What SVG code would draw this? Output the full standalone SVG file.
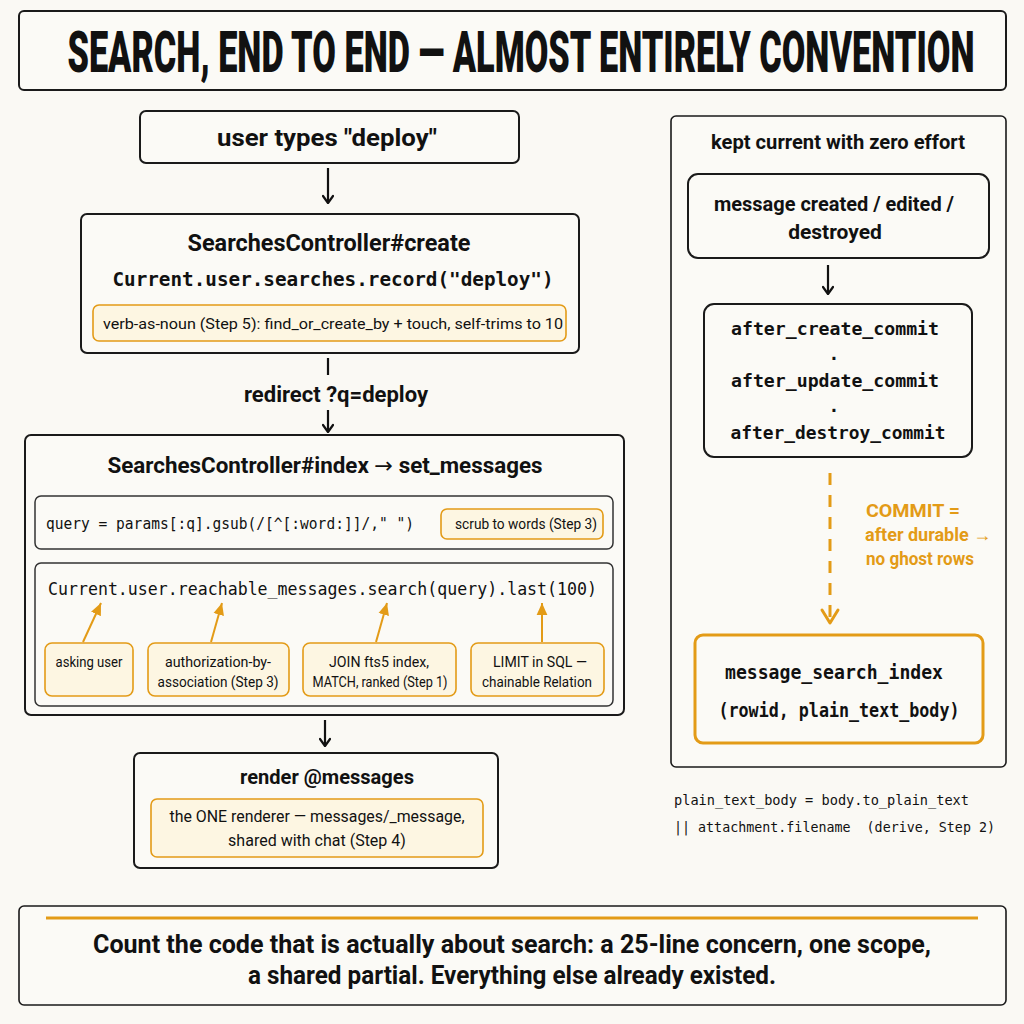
<svg xmlns="http://www.w3.org/2000/svg" width="1024" height="1024" viewBox="0 0 1024 1024">
<defs>
<marker id="ah" viewBox="0 0 12 12" refX="11" refY="6" markerWidth="12" markerHeight="12" markerUnits="userSpaceOnUse" orient="auto">
<path d="M4,1 L11,6 L4,11" fill="none" stroke="#111" stroke-width="2.2" stroke-linecap="round" stroke-linejoin="round"/>
</marker>
<marker id="ahf" viewBox="0 0 10 10" refX="10" refY="5" markerWidth="12" markerHeight="12" markerUnits="userSpaceOnUse" orient="auto">
<path d="M0,0.5 L10,5 L0,9.5 Z" fill="#e39b17"/>
</marker>
</defs>
<style>
.box{fill:#fbfaf6;stroke:#1a1a1a;stroke-width:2}
.inner{fill:#fbfaf6;stroke:#333;stroke-width:1.5}
.note{fill:#fdf6e2;stroke:#e39b17;stroke-width:1.6}
.h{font-family:Roboto,"Liberation Sans",sans-serif;font-weight:700;fill:#111;text-anchor:middle}
.t{font-family:Roboto,"Liberation Sans",sans-serif;font-weight:400;fill:#111;text-anchor:middle}
.m{font-family:"DejaVu Sans Mono","Liberation Mono",monospace;fill:#111}
.mb{font-family:"DejaVu Sans Mono","Liberation Mono",monospace;font-weight:700;fill:#111}
.o{font-family:Roboto,"Liberation Sans",sans-serif;font-weight:700;fill:#e39b17}
.arr{font-family:"DejaVu Sans",sans-serif;font-weight:400}
.line{stroke:#111;stroke-width:2.2;fill:none}
.oline{stroke:#e39b17;stroke-width:2;fill:none}
</style>
<rect width="1024" height="1024" fill="#faf9f4"/>

<g id="title">
<rect x="19" y="11" width="987" height="79" rx="5" class="box"/>
<text transform="translate(521,72) scale(0.62,1)" text-anchor="middle" font-family="Roboto,'Liberation Sans',sans-serif" font-weight="900" font-size="58" fill="#111" textLength="1463" lengthAdjust="spacingAndGlyphs">SEARCH, END TO END — ALMOST ENTIRELY CONVENTION</text>
</g>

<g id="user-types">
<rect x="140" y="111" width="379" height="52" rx="6" class="box"/>
<text x="327" y="146" class="h" font-size="24" textLength="220" lengthAdjust="spacingAndGlyphs">user types "deploy"</text>
</g>

<g id="create">
<rect x="81" y="214" width="498" height="139" rx="6" class="box"/>
<text x="329" y="251" class="h" font-size="23" textLength="283" lengthAdjust="spacingAndGlyphs">SearchesController#create</text>
<text x="333" y="286" class="mb" font-size="19.3" text-anchor="middle">Current.user.searches.record("deploy")</text>
<rect x="93" y="305" width="473" height="36" rx="6" class="note"/>
<text x="333" y="329" class="t" font-size="15.5" textLength="460" lengthAdjust="spacingAndGlyphs">verb-as-noun (Step 5): find_or_create_by + touch, self-trims to 10</text>
</g>

<g id="index">
<rect x="25" y="435" width="599" height="280" rx="6" class="box"/>
<text x="325" y="473" class="h" font-size="22" textLength="435" lengthAdjust="spacingAndGlyphs">SearchesController#index <tspan class="arr">→</tspan> set_messages</text>
<rect x="35" y="496" width="578" height="53" rx="6" class="inner"/>
<text x="46" y="529" class="m" font-size="16" textLength="368" lengthAdjust="spacingAndGlyphs">query = params[:q].gsub(/[^[:word:]]/," ")</text>
<rect x="441" y="509" width="162" height="30" rx="6" class="note"/>
<text x="526" y="529" class="t" font-size="14" textLength="142" lengthAdjust="spacingAndGlyphs">scrub to words (Step 3)</text>
<rect x="35" y="563" width="578" height="143" rx="6" class="inner"/>
<text x="48" y="595" class="m" font-size="17.5" font-weight="500" textLength="549" lengthAdjust="spacingAndGlyphs">Current.user.reachable_messages.search(query).last(100)</text>
<rect x="45" y="643" width="88" height="53" rx="7" class="note"/>
<text x="89" y="667" class="t" font-size="15.5" textLength="67" lengthAdjust="spacingAndGlyphs">asking user</text>
<rect x="148" y="643" width="141" height="53" rx="7" class="note"/>
<text x="218" y="667" class="t" font-size="15.5" textLength="106" lengthAdjust="spacingAndGlyphs">authorization-by-</text>
<text x="218" y="687" class="t" font-size="15.5" textLength="121" lengthAdjust="spacingAndGlyphs">association (Step 3)</text>
<rect x="303" y="643" width="153" height="53" rx="7" class="note"/>
<text x="379" y="667" class="t" font-size="15.5" textLength="100" lengthAdjust="spacingAndGlyphs">JOIN fts5 index,</text>
<text x="380" y="687" class="t" font-size="15.5" textLength="135" lengthAdjust="spacingAndGlyphs">MATCH, ranked (Step 1)</text>
<rect x="471" y="643" width="133" height="53" rx="7" class="note"/>
<text x="540" y="667" class="t" font-size="15.5" textLength="94" lengthAdjust="spacingAndGlyphs">LIMIT in SQL —</text>
<text x="537" y="687" class="t" font-size="15.5" textLength="110" lengthAdjust="spacingAndGlyphs">chainable Relation</text>
</g>

<g id="render">
<rect x="134" y="753" width="364" height="115" rx="6" class="box"/>
<text x="327" y="784" class="h" font-size="20.5" textLength="174" lengthAdjust="spacingAndGlyphs">render @messages</text>
<rect x="151" y="799" width="332" height="58" rx="6" class="note"/>
<text x="317" y="822" class="t" font-size="16" textLength="295" lengthAdjust="spacingAndGlyphs">the ONE renderer — messages/_message,</text>
<text x="317" y="846" class="t" font-size="16">shared with chat (Step 4)</text>
</g>

<g id="side-panel">
<rect x="671" y="116" width="335" height="651" rx="5" fill="#fbfaf6" stroke="#1a1a1a" stroke-width="1.6"/>
<text x="838" y="149" class="h" font-size="20" textLength="254" lengthAdjust="spacingAndGlyphs">kept current with zero effort</text>
</g>

<g id="message-event">
<rect x="688" y="174" width="301" height="84" rx="10" class="box"/>
<text x="834" y="211" class="h" font-size="21" font-weight="500" textLength="240" lengthAdjust="spacingAndGlyphs">message created / edited /</text>
<text x="835" y="239" class="h" font-size="21" font-weight="500">destroyed</text>
</g>

<g id="callbacks">
<rect x="704" y="304" width="268" height="153" rx="10" class="box"/>
<text x="835" y="335" class="mb" font-size="18" text-anchor="middle" textLength="208" lengthAdjust="spacingAndGlyphs">after_create_commit</text>
<text x="834" y="360" class="mb" font-size="18" text-anchor="middle">.</text>
<text x="835" y="387" class="mb" font-size="18" text-anchor="middle" textLength="208" lengthAdjust="spacingAndGlyphs">after_update_commit</text>
<text x="834" y="412" class="mb" font-size="18" text-anchor="middle">.</text>
<text x="838" y="439" class="mb" font-size="18" text-anchor="middle" textLength="215" lengthAdjust="spacingAndGlyphs">after_destroy_commit</text>
</g>

<g id="search-index">
<rect x="695" y="635" width="288" height="108" rx="8" fill="#fbfaf6" stroke="#e39b17" stroke-width="3"/>
<text x="834" y="679" class="mb" font-size="19" text-anchor="middle" textLength="218" lengthAdjust="spacingAndGlyphs">message_search_index</text>
<text x="839" y="717" class="mb" font-size="19" text-anchor="middle" textLength="241" lengthAdjust="spacingAndGlyphs">(rowid, plain_text_body)</text>
</g>

<g id="derive-note">
<text x="674" y="805" class="m" font-size="13.6" textLength="295" lengthAdjust="spacingAndGlyphs">plain_text_body = body.to_plain_text</text>
<text x="674" y="832" class="m" font-size="13.3" textLength="321" lengthAdjust="spacingAndGlyphs" xml:space="preserve">|| attachment.filename  (derive, Step 2)</text>
</g>

<g id="summary">
<rect x="19" y="906" width="987" height="99" rx="5" fill="#fbfaf6" stroke="#1a1a1a" stroke-width="1.6"/>
<line x1="46" y1="918" x2="978" y2="918" stroke="#e39b17" stroke-width="3"/>
<text x="512" y="953" class="h" font-size="25" textLength="838" lengthAdjust="spacingAndGlyphs">Count the code that is actually about search: a 25-line concern, one scope,</text>
<text x="512" y="984" class="h" font-size="25" textLength="528" lengthAdjust="spacingAndGlyphs">a shared partial. Everything else already existed.</text>
</g>

<g id="connectors">
<line x1="328" y1="168" x2="328" y2="203" class="line" marker-end="url(#ah)"/>
<line x1="328" y1="358" x2="328" y2="375" class="line"/>
<text x="336" y="402" class="h" font-size="22" textLength="184" lengthAdjust="spacingAndGlyphs">redirect ?q=deploy</text>
<line x1="328" y1="410" x2="328" y2="432" class="line" marker-end="url(#ah)"/>
<line x1="325" y1="720" x2="325" y2="746" class="line" marker-end="url(#ah)"/>
<line x1="828" y1="265" x2="828" y2="294" class="line" marker-end="url(#ah)"/>
<line x1="830" y1="473" x2="830" y2="622" stroke="#e39b17" stroke-width="3" stroke-dasharray="12,10" fill="none"/>
<path d="M822,610 L830,623 L838,610" fill="none" stroke="#e39b17" stroke-width="3" stroke-linecap="round" stroke-linejoin="round"/>
<text x="866" y="517" class="o" font-size="19" textLength="94" lengthAdjust="spacingAndGlyphs">COMMIT =</text>
<text x="865" y="541" class="o" font-size="18">after durable →</text>
<text x="866" y="565" class="o" font-size="19" textLength="108" lengthAdjust="spacingAndGlyphs">no ghost rows</text>
<line x1="83" y1="642" x2="101" y2="603" class="oline" marker-end="url(#ahf)"/>
<line x1="211" y1="642" x2="222" y2="603" class="oline" marker-end="url(#ahf)"/>
<line x1="376" y1="642" x2="387" y2="603" class="oline" marker-end="url(#ahf)"/>
<line x1="542" y1="642" x2="542" y2="603" class="oline" marker-end="url(#ahf)"/>
</g>
</svg>
